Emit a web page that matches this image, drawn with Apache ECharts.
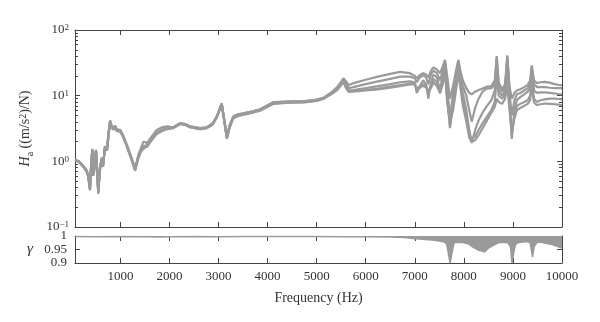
<!DOCTYPE html>
<html>
<head>
<meta charset="utf-8">
<script src="https://cdn.jsdelivr.net/npm/echarts@6/dist/echarts.min.js"></script>
<style>
  html, body { margin: 0; padding: 0; background: #fff; }
  #chart { width: 600px; height: 322px; }
</style>
</head>
<body>
<div id="chart"></div>
<script>
// Accelerance FRFs (several measurements) and their coherence.
const freq = [75, 150, 240, 310, 345, 380, 405, 428, 445, 462, 485, 503, 525, 550, 580, 620, 646, 686, 727, 760,
  790, 820, 856, 890, 925, 957, 1000, 1060, 1130, 1200, 1260, 1300, 1365, 1420, 1470, 1540, 1640, 1740, 1850, 1950,
  2080, 2215, 2320, 2420, 2620, 2760, 2880, 2960, 3020, 3065, 3120, 3170, 3230, 3300, 3400, 3505, 3700, 3850, 4120, 4450,
  4750, 5000, 5150, 5280, 5420, 5545, 5600, 5650, 5750, 6000, 6250, 6500, 6700, 6900, 7000, 7040, 7100, 7170, 7230, 7275,
  7330, 7380, 7450, 7515, 7570, 7616, 7660, 7717, 7780, 7840, 7887, 7930, 7980, 8050, 8110, 8160, 8230, 8300, 8380, 8470,
  8560, 8630, 8670, 8710, 8780, 8840, 8886, 8930, 8976, 9030, 9080, 9150, 9230, 9300, 9350, 9383, 9430, 9490, 9560, 9650,
  9750, 9850, 9930, 10000];

const frfA = [1.05, 1.0, 0.85, 0.72, 0.6, 0.38, 0.9, 1.5, 0.62, 0.7, 1.2, 1.45, 0.7, 0.33, 0.75, 1.15, 0.85, 1.65, 1.5, 2.6,
  4.2, 3.4, 3.1, 3.4, 3.0, 3.2, 2.9, 2.4, 1.8, 1.3, 0.95, 0.76, 1.25, 1.6, 2.0, 1.9, 2.4, 3.0, 3.3, 3.4,
  3.3, 3.8, 3.7, 3.4, 3.2, 3.3, 3.8, 4.8, 6.2, 7.6, 4.2, 2.3, 3.6, 4.8, 5.2, 5.4, 5.8, 6.2, 8.0, 8.2,
  8.3, 8.7, 9.4, 10.9, 13.5, 18.4, 16.5, 14.5, 15.5, 17.5, 19.5, 21.5, 23, 22, 20, 18.5, 20.5, 22, 21, 19,
  24, 27, 25, 22, 28, 35, 20, 9, 14, 24, 35, 24, 17, 13, 11, 10.5, 11.5, 12.2, 12.8, 13.7,
  14, 17, 40, 16, 12.5, 15, 41, 14, 9, 11, 12, 12.5, 13.5, 14.5, 17, 29, 17, 15.5, 16, 16.2,
  15.8, 15, 14.6, 14.5];

const frfB = [1.04, 0.98, 0.83, 0.7, 0.58, 0.36, 0.95, 1.45, 0.6, 0.75, 1.3, 1.4, 0.65, 0.34, 0.8, 1.1, 0.9, 1.6, 1.55, 2.8,
  4.0, 3.3, 3.0, 3.3, 2.9, 3.1, 2.8, 2.3, 1.7, 1.2, 0.9, 0.74, 1.15, 1.45, 1.75, 1.65, 2.1, 2.6, 2.9, 3.1,
  3.2, 3.7, 3.6, 3.3, 3.1, 3.2, 3.6, 4.6, 6.0, 7.4, 4.0, 2.25, 3.4, 4.6, 5.0, 5.2, 5.6, 6.0, 7.6, 7.9,
  8.0, 8.4, 9.1, 10.5, 13, 17.5, 15, 13, 13.5, 15, 16.5, 18, 19.5, 19.5, 18.5, 16, 19, 20.5, 19, 15,
  21, 24, 22, 17, 24, 33, 14, 4.5, 11, 20, 34, 21, 14, 10, 6, 4, 6.5, 9, 11.5, 12.8,
  13, 15, 38, 14, 11.5, 13.5, 39, 11, 5, 8.5, 10.5, 11, 12, 13, 15, 27, 15, 13.5, 13.5, 13.5,
  13.2, 13, 13, 13];

const frfC = [1.06, 1.01, 0.86, 0.74, 0.62, 0.4, 0.85, 1.55, 0.65, 0.68, 1.15, 1.5, 0.75, 0.35, 0.7, 1.1, 0.82, 1.7, 1.45, 2.5,
  4.1, 3.5, 3.2, 3.5, 3.1, 3.3, 3.0, 2.45, 1.75, 1.25, 0.92, 0.75, 1.2, 1.5, 1.6, 1.8, 2.2, 2.7, 3.0, 3.2,
  3.3, 3.75, 3.65, 3.35, 3.15, 3.25, 3.7, 4.7, 6.1, 7.5, 4.1, 2.3, 3.5, 4.7, 5.1, 5.3, 5.7, 6.1, 7.8, 8.0,
  8.1, 8.5, 9.2, 10.6, 12.5, 16.5, 14, 12, 12.2, 13, 14, 15, 16, 16.5, 16, 11, 14, 17, 15, 9,
  16, 21, 19, 12, 21, 30, 10, 3.2, 8, 16, 31, 18, 11, 6, 3, 1.9, 3.0, 4.2, 5.5, 7,
  8.5, 12, 34, 12, 10, 12, 36, 9, 2.2, 6, 8.6, 9.5, 10.5, 11.5, 13, 25, 12, 11, 11.2, 11.2,
  11, 10.8, 10.6, 10.5];

const frfD = [1.03, 0.99, 0.84, 0.71, 0.6, 0.37, 0.92, 1.48, 0.61, 0.72, 1.25, 1.42, 0.68, 0.32, 0.78, 1.12, 0.88, 1.62, 1.52, 2.7,
  4.15, 3.4, 3.05, 3.35, 2.95, 3.15, 2.85, 2.35, 1.72, 1.22, 0.88, 0.72, 1.1, 1.4, 1.55, 1.7, 2.15, 2.65, 2.95, 3.1,
  3.25, 3.7, 3.6, 3.3, 3.1, 3.2, 3.65, 4.6, 6.0, 7.3, 3.9, 2.2, 3.3, 4.5, 4.9, 5.1, 5.5, 5.9, 7.5, 7.8,
  7.9, 8.3, 9.0, 10.3, 12.2, 16, 13, 11.5, 11.8, 12.2, 12.8, 13.7, 14.5, 15.2, 15.4, 12, 13, 15, 14, 11,
  14, 18, 16, 10.9, 18, 28, 9, 3.5, 7, 14, 28, 16, 9, 5, 2.5, 2.2, 2.4, 3.0, 3.8, 4.8,
  6, 8, 20, 10, 9, 10.5, 25, 8, 2.5, 5, 7, 7.5, 8, 8.5, 10, 18, 9, 8, 8.5, 8.8,
  9.0, 9.0, 8.9, 8.8];

const frfE = [1.05, 1.0, 0.85, 0.73, 0.61, 0.39, 0.88, 1.52, 0.64, 0.7, 1.18, 1.48, 0.72, 0.34, 0.72, 1.08, 0.84, 1.68, 1.48, 2.55,
  4.05, 3.45, 3.15, 3.45, 3.05, 3.25, 2.95, 2.4, 1.78, 1.28, 0.95, 0.78, 1.18, 1.48, 1.65, 1.75, 2.2, 2.75, 3.05, 3.2,
  3.3, 3.8, 3.7, 3.4, 3.2, 3.3, 3.75, 4.75, 6.2, 7.6, 4.2, 2.35, 3.6, 4.8, 5.2, 5.4, 5.8, 6.2, 7.9, 8.1,
  8.2, 8.6, 9.3, 10.8, 13, 17, 13.5, 11.5, 11.5, 12, 12.5, 13.2, 14, 14.8, 15, 13, 13.5, 14, 13.5, 12,
  13, 16, 14, 11, 15, 22, 8, 4, 6, 12, 22, 13, 7, 4, 2.3, 2.0, 2.1, 2.5, 3.2, 4.2,
  5.5, 6.8, 9, 8, 7.5, 9, 14, 6, 2.8, 4.5, 6, 6.5, 7, 7.5, 8.5, 14, 7.8, 7.2, 7.4, 7.6,
  7.5, 7.4, 7.3, 7.2];

const frfCurves = [frfA, frfB, frfC, frfD, frfE];

// Coherence (lower envelope of all measurements)
const cohFreq = [75, 500, 1000, 1500, 1800, 2000, 2500, 3000, 3500, 4000, 4500, 5000, 5500, 6000, 6500, 6800, 7000, 7100,
  7200, 7300, 7400, 7500, 7600, 7650, 7690, 7720, 7750, 7800, 7900, 8000, 8100, 8200, 8250, 8300, 8350, 8420, 8500, 8600,
  8700, 8800, 8900, 8950, 8980, 9010, 9050, 9100, 9200, 9300, 9350, 9400, 9430, 9500, 9600, 9700, 9800, 9900, 10000];
const cohMin = [0.998, 0.997, 0.998, 0.997, 0.996, 0.997, 0.998, 0.997, 0.998, 0.998, 0.998, 0.998, 0.997, 0.997, 0.996, 0.994, 0.99, 0.989,
  0.987, 0.986, 0.984, 0.981, 0.978, 0.97, 0.93, 0.9, 0.93, 0.975, 0.977, 0.975, 0.97, 0.957, 0.952, 0.947, 0.945, 0.941, 0.955, 0.965,
  0.975, 0.977, 0.975, 0.96, 0.9, 0.93, 0.968, 0.975, 0.978, 0.979, 0.975, 0.922, 0.96, 0.978, 0.976, 0.972, 0.968, 0.962, 0.955];

const xTickValues = [1000, 2000, 3000, 4000, 5000, 6000, 7000, 8000, 9000, 10000];

const INK = '#444';
const TEXT = '#333';
const LINE = '#9a9a9a';
const SERIF = '"Liberation Serif", "DejaVu Serif", serif';

// minor decade ticks, placed in log10 space on a helper axis
const minorLog = [];
for (let e = -1; e < 2; e++) for (let k = 2; k <= 9; k++) minorLog.push(Math.log10(k) + e);

const chart = echarts.init(document.getElementById('chart'), null, { renderer: 'canvas' });

const tick = extra => Object.assign({ show: true, inside: true, length: 5, lineStyle: { color: INK, width: 1 } }, extra || {});
const axLine = () => ({ show: true, onZero: false, lineStyle: { color: INK, width: 1 } });
const noLine = () => ({ show: false, onZero: false });

function xAx(grid, pos, labels) {
  return {
    type: 'value', gridIndex: grid, position: pos, min: 75, max: 10000,
    axisLine: axLine(),
    axisTick: tick({ customValues: xTickValues }),
    axisLabel: labels ? {
      show: true, customValues: xTickValues, formatter: v => String(v),
      color: TEXT, fontFamily: SERIF, fontSize: 13, margin: 7
    } : { show: false },
    splitLine: { show: false }
  };
}

const supRich = {
  b: { fontFamily: SERIF, fontSize: 13, color: TEXT, lineHeight: 13, verticalAlign: 'bottom' },
  s: { fontFamily: SERIF, fontSize: 9, color: TEXT, lineHeight: 9, padding: [0, 0, 8, 0], verticalAlign: 'top' }
};

const option = {
  animation: false,
  backgroundColor: '#fff',
  grid: [
    { left: 75, right: 38, top: 30, height: 197 },
    { left: 75, right: 38, top: 236, height: 27 }
  ],
  xAxis: [
    xAx(0, 'bottom', false),
    xAx(0, 'top', false),
    Object.assign(xAx(1, 'bottom', true), {
      name: 'Frequency (Hz)', nameLocation: 'middle', nameGap: 28,
      nameTextStyle: { fontFamily: SERIF, fontSize: 14, color: TEXT }
    }),
    xAx(1, 'top', false)
  ],
  yAxis: [
    {
      type: 'log', logBase: 10, gridIndex: 0, position: 'left', min: 0.1, max: 100,
      axisLine: axLine(), axisTick: tick(), splitLine: { show: false },
      axisLabel: {
        show: true, margin: 6, rich: supRich,
        formatter: v => {
          const e = Math.round(Math.log10(v));
          return '{b|10}{s|' + (e < 0 ? '\u2212' + (-e) : e) + '}';
        }
      },
      name: '{i|H}{sub|a} ((m/s{sup|2})/N)', nameLocation: 'middle', nameRotate: 90, nameGap: 34,
      nameTextStyle: {
        fontFamily: SERIF, fontSize: 14, color: TEXT,
        rich: {
          i: { fontFamily: SERIF, fontSize: 14, fontStyle: 'italic', color: TEXT, lineHeight: 14, verticalAlign: 'bottom' },
          sub: { fontFamily: SERIF, fontSize: 10, color: TEXT, lineHeight: 10, verticalAlign: 'bottom', padding: [0, 0, -3, 0] },
          sup: { fontFamily: SERIF, fontSize: 10, color: TEXT, lineHeight: 10, verticalAlign: 'top', padding: [0, 0, 7, 0] }
        }
      }
    },
    {
      type: 'value', gridIndex: 0, position: 'left', min: -1, max: 2,
      axisLine: noLine(),
      axisTick: tick({ length: 3, customValues: minorLog }),
      axisLabel: { show: false }, splitLine: { show: false }
    },
    {
      type: 'log', logBase: 10, gridIndex: 0, position: 'right', min: 0.1, max: 100,
      axisLine: axLine(), axisTick: tick(), axisLabel: { show: false }, splitLine: { show: false }
    },
    {
      type: 'value', gridIndex: 0, position: 'right', min: -1, max: 2,
      axisLine: noLine(),
      axisTick: tick({ length: 3, customValues: minorLog }),
      axisLabel: { show: false }, splitLine: { show: false }
    },
    {
      type: 'value', gridIndex: 1, position: 'left', min: 0.9, max: 1, interval: 0.05,
      axisLine: axLine(), axisTick: tick(), splitLine: { show: false },
      axisLabel: { show: true, color: TEXT, fontFamily: SERIF, fontSize: 13, margin: 8 },
      name: '\u03b3', nameLocation: 'middle', nameRotate: 0, nameGap: 42,
      nameTextStyle: { fontFamily: SERIF, fontSize: 15, fontStyle: 'italic', color: TEXT }
    },
    {
      type: 'value', gridIndex: 1, position: 'right', min: 0.9, max: 1, interval: 0.05,
      axisLine: axLine(), axisTick: tick(), axisLabel: { show: false }, splitLine: { show: false }
    }
  ],
  series: frfCurves.map(vals => ({
    type: 'line', xAxisIndex: 0, yAxisIndex: 0,
    data: freq.map((f, i) => [f, vals[i]]),
    showSymbol: false, symbol: 'none', silent: true,
    lineStyle: { color: LINE, width: 2.2 }
  })).concat([{
    type: 'line', xAxisIndex: 2, yAxisIndex: 4,
    data: cohFreq.map((f, i) => [f, cohMin[i]]),
    showSymbol: false, symbol: 'none', silent: true,
    lineStyle: { color: LINE, width: 1.5 },
    areaStyle: { color: LINE, opacity: 1, origin: 'end' }
  }])
};

chart.setOption(option);
</script>
</body>
</html>
